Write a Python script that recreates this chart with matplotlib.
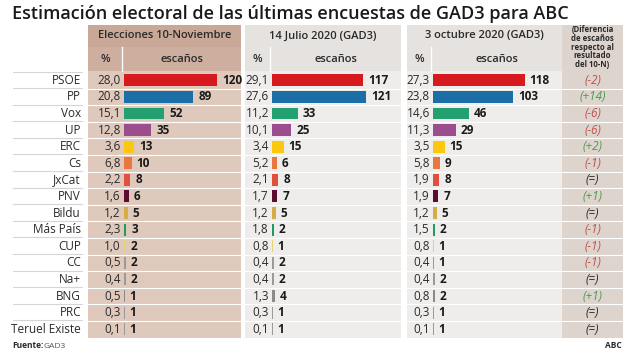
import matplotlib.pyplot as plt
from matplotlib.patches import Rectangle

plt.rcParams['font.family'] = ['Open Sans', 'DejaVu Sans']

# Data
parties = ['PSOE', 'PP', 'Vox', 'UP', 'ERC', 'Cs', 'JxCat', 'PNV', 'Bildu',
           'Más País', 'CUP', 'CC', 'Na+', 'BNG', 'PRC', 'Teruel Existe']
colors = ['#d71a1f', '#1b6fa6', '#22a06f', '#9b4d8d', '#fcc80f', '#e9783e',
          '#e1503d', '#5c0c30', '#d6ac46', '#1e9c5e', '#e6d378', '#9a9a9a',
          '#9a9a9a', '#8a8a8a', '#9a9a9a', '#9a9a9a']

pct_nov = [28.0, 20.8, 15.1, 12.8, 3.6, 6.8, 2.2, 1.6, 1.2, 2.3, 1.0, 0.5, 0.4, 0.5, 0.3, 0.1]
seats_nov = [120, 89, 52, 35, 13, 10, 8, 6, 5, 3, 2, 2, 2, 1, 1, 1]
pct_jul = [29.1, 27.6, 11.2, 10.1, 3.4, 5.2, 2.1, 1.7, 1.2, 1.8, 0.8, 0.4, 0.4, 1.3, 0.3, 0.1]
seats_jul = [117, 121, 33, 25, 15, 6, 8, 7, 5, 2, 1, 2, 2, 4, 1, 1]
pct_oct = [27.3, 23.8, 14.6, 11.3, 3.5, 5.8, 1.9, 1.9, 1.2, 1.5, 0.8, 0.4, 0.4, 0.8, 0.3, 0.1]
seats_oct = [118, 103, 46, 29, 15, 9, 8, 7, 5, 2, 1, 1, 2, 2, 1, 1]

headers = ['Elecciones 10-Noviembre', '14 Julio 2020 (GAD3)', '3 octubre 2020 (GAD3)']

W, H = 630, 355
fig = plt.figure(figsize=(W / 100, H / 100), dpi=100)
bg = fig.add_axes([0, 0, 1, 1])
bg.set_xlim(0, W)
bg.set_ylim(H, 0)
bg.axis('off')

n = len(parties)
body_top, body_bot = 72, 337.5
rh = (body_bot - body_top) / n
scale = 0.777  # px per seat

# panel layout: (left, right, % divider, header colour, subheader colour, body colour)
panels = [
    (88, 241, 122, '#c9a897', '#cdae9f', '#dfc9bc'),
    (245, 401, 270, '#e5e2df', '#e5e2df', '#eeedeb'),
    (407, 562, 431, '#e5e2df', '#e5e2df', '#eeedeb'),
]
data = [(pct_nov, seats_nov), (pct_jul, seats_jul), (pct_oct, seats_oct)]

bg.text(12, 14, 'Estimación electoral de las últimas encuestas de GAD3 para ABC',
        fontsize=13, fontweight='semibold', va='center', ha='left', color='#1a1a1a')

for (left, right, div, hc, sc, bc), title, (pct, seats) in zip(panels, headers, data):
    bg.add_patch(Rectangle((left, 25), right - left, 21.5, color=hc, lw=0))
    bg.add_patch(Rectangle((left, 47), right - left, 23.5, color=sc, lw=0))
    bg.add_patch(Rectangle((left, body_top - 1), right - left, body_bot - body_top + 1, color=bc, lw=0))
    bg.plot([div, div], [47, 70.5], color='white', lw=1)
    bg.text((left + right) / 2, 36, title, ha='center', va='center',
            fontsize=8, fontweight='semibold', color='#2a2a2a')
    bg.text((left + div) / 2, 59, '%', ha='center', va='center',
            fontsize=8, fontweight='semibold', color='#2a2a2a')
    bg.text((div + right) / 2, 59, 'escaños', ha='center', va='center',
            fontsize=8, fontweight='semibold', color='#2a2a2a')

    # bar axes, zero at bar start
    x0 = div + 2
    ax = fig.add_axes([x0 / W, 1 - body_bot / H, (right - x0) / W, (body_bot - body_top) / H])
    ax.set_xlim(0, (right - x0) / scale)
    ax.set_ylim(n - 0.5, -0.5)
    ax.axis('off')
    ax.barh(range(n), seats, height=0.72, color=colors, lw=0)
    for i, (p, s) in enumerate(zip(pct, seats)):
        ax.text(-3 / scale, i, f'{p:.1f}'.replace('.', ','), ha='right', va='center',
                fontsize=8.5, color='#2a2a2a', clip_on=False)
        ax.text(s + 5 / scale, i, str(s), ha='left', va='center',
                fontsize=8.5, fontweight='bold', color='#1a1a1a', clip_on=False)

# difference column
dl, dr = 562, 623
bg.add_patch(Rectangle((dl, 25), dr - dl, body_bot - 25, color='#ddd4cd', lw=0))
bg.text((dl + dr) / 2, 47, '(Diferencia\nde escaños\nrespecto al\nresultado\ndel 10-N)',
        ha='center', va='center', fontsize=5.6, fontweight='bold', color='#2a2a2a',
        linespacing=0.95)

for i, (a, b) in enumerate(zip(seats_nov, seats_oct)):
    d = b - a
    yc = body_top + (i + 0.5) * rh
    if d > 0:
        s, c = f'(+{d})', '#4f9a4f'
    elif d < 0:
        s, c = f'({d})', '#c0504d'
    else:
        s, c = '(=)', '#2a2a2a'
    bg.text((dl + dr) / 2, yc, s, ha='center', va='center', fontsize=8.5,
            style='italic', color=c)

# row separators and labels
for i in range(n + 1):
    y = body_top + i * rh
    if 0 < i < n:
        for left, right in [(88, 241), (245, 401), (407, 623)]:
            bg.plot([left, right], [y, y], color='white', lw=0.8)
    if i < n:
        bg.plot([13, 82], [y - 0.5, y - 0.5], color='#d5d5d5', lw=0.8)
for i, p in enumerate(parties):
    bg.text(81, body_top + (i + 0.5) * rh, p, ha='right', va='center',
            fontsize=8.5, color='#2a2a2a')

bg.text(12, 346, 'Fuente:', fontsize=6, fontweight='bold', va='center', color='#2a2a2a')
bg.text(44, 346, 'GAD3', fontsize=6, va='center', color='#555555')
bg.text(622, 346, 'ABC', fontsize=6, fontweight='bold', va='center', ha='right', color='#2a2a2a')

fig.savefig('out.png', dpi=100)
